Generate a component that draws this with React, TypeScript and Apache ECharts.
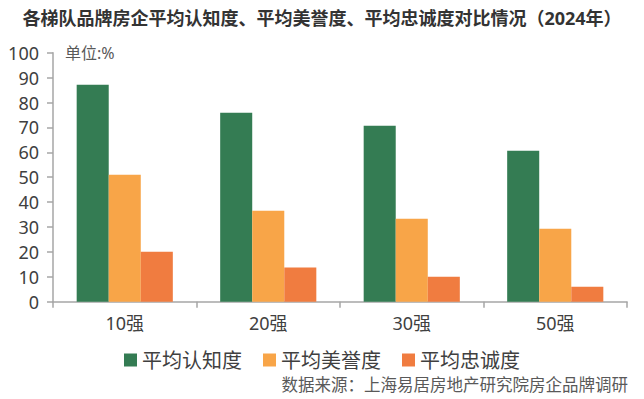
import React, { useEffect, useRef } from "react";
import * as echarts from "echarts";

const titleText = "各梯队品牌房企平均认知度、平均美誉度、平均忠诚度对比情况（2024年）";
const unitText = "单位:%";
const sourceText = "数据来源：上海易居房地产研究院房企品牌调研";
const categories = ["10强", "20强", "30强", "50强"];
const seriesNames = ["平均认知度", "平均美誉度", "平均忠诚度"];
const awareness = [87.1, 75.9, 70.7, 60.6];
const reputation = [51.0, 36.5, 33.3, 29.3];
const loyalty = [20.1, 13.7, 10.0, 6.0];
const colors = ["#347C53", "#F8A548", "#F07C40"];

const FONT = "'Noto Sans', 'Noto Sans CJK SC', sans-serif";

export default function App() {
  const ref = useRef<HTMLDivElement>(null);
  useEffect(() => {
    if (!ref.current) return;
    const chart = echarts.init(ref.current, null, { renderer: "svg" });
    const values = [awareness, reputation, loyalty];
    chart.setOption({
      animation: false,
      backgroundColor: "#ffffff",
      textStyle: { fontFamily: FONT },
      title: {
        text: titleText,
        left: "center",
        top: 4,
        textStyle: { fontSize: 18, fontWeight: "bold", color: "#333333", fontFamily: FONT },
      },
      legend: {
        data: seriesNames,
        left: "center",
        top: 345,
        itemWidth: 13,
        itemHeight: 13,
        itemGap: 21,
        icon: "rect",
        textStyle: { fontSize: 20, color: "#404040", fontFamily: FONT },
      },
      graphic: [
        {
          type: "text",
          left: 65,
          top: 45,
          style: { text: unitText, fontSize: 16, fill: "#595959", fontFamily: FONT },
        },
        {
          type: "text",
          right: 16,
          top: 376,
          style: { text: sourceText, fontSize: 16.5, fill: "#595959", fontFamily: FONT },
        },
      ],
      grid: { left: 53, right: 17, top: 52.7, bottom: 97.3, containLabel: false },
      xAxis: {
        type: "category",
        data: categories,
        axisLine: { lineStyle: { color: "#A6A6A6", width: 1.5 } },
        axisTick: { show: true, length: 6, lineStyle: { color: "#A6A6A6", width: 1.5 } },
        axisLabel: { fontSize: 18, color: "#404040", margin: 12, fontFamily: FONT },
      },
      yAxis: {
        type: "value",
        min: 0,
        max: 100,
        interval: 10,
        axisLine: { show: true, lineStyle: { color: "#A6A6A6", width: 1.5 } },
        axisTick: { show: true, length: 6, lineStyle: { color: "#A6A6A6", width: 1.5 } },
        splitLine: { show: false },
        axisLabel: { fontSize: 18, color: "#404040", margin: 14, fontFamily: FONT },
      },
      series: seriesNames.map((name, i) => ({
        name,
        type: "bar",
        data: values[i],
        barGap: "0%",
        barCategoryGap: "33%",
        itemStyle: { color: colors[i] },
      })),
    });
    return () => chart.dispose();
  }, []);
  return <div ref={ref} style={{ width: 644, height: 399, position: "absolute", left: 0, top: 0 }} />;
}
